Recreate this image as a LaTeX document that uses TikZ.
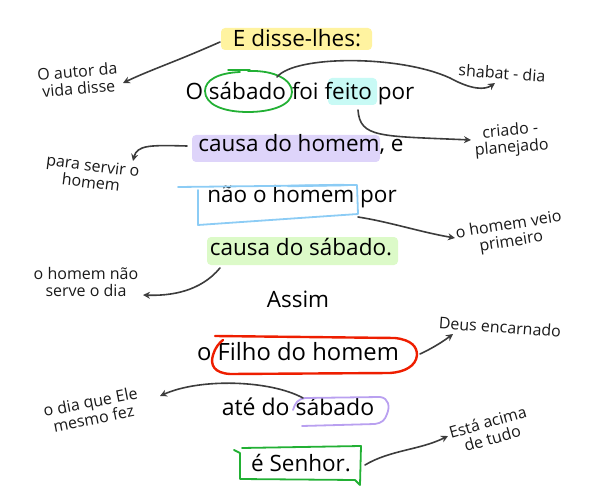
\documentclass[tikz,border=0pt]{standalone}
\usepackage{fontspec}
\setmainfont{Open Sans}
\usetikzlibrary{arrows.meta}
\definecolor{hlyellow}{RGB}{255,243,160}
\definecolor{hlcyan}{RGB}{200,250,245}
\definecolor{hlpurple}{RGB}{222,212,250}
\definecolor{hlgreen}{RGB}{220,250,200}
\definecolor{ringgreen}{RGB}{34,176,52}
\definecolor{ringblue}{RGB}{140,204,245}
\definecolor{ringred}{RGB}{238,30,0}
\definecolor{ringpurple}{RGB}{185,160,240}
\definecolor{arrowgray}{RGB}{60,60,60}
\begin{document}
\begin{tikzpicture}[x=1pt,y=-1pt,
  mainline/.style={font=\fontsize{22.5}{26}\selectfont, anchor=base, inner sep=0pt, text=black},
  note/.style={font=\fontsize{16}{17}\selectfont, align=center, inner sep=0pt, text=black!90},
  hl/.style={rounded corners=4pt, draw=none},
  conn/.style={draw=arrowgray, line width=1.6pt, line cap=round, -{Stealth[length=7pt,width=7pt,open,line width=1.4pt]}},
  ring/.style={line width=1.8pt, line cap=round, line join=round}]
\useasboundingbox (0,0) rectangle (600,500);
% highlights
\fill[hl,hlyellow] (221,28) rectangle (372,50);
\fill[hl,hlcyan] (328,78) rectangle (377,105);
\fill[hl,hlpurple] (192,135) rectangle (380,162);
\fill[hl,hlgreen] (207,237) rectangle (398,265);
% main text
\node[mainline] (l1) at (297,47) {E disse-lhes:};
\node[mainline] (l2) at (300,100) {O sábado foi feito por};
\node[mainline] (l3) at (301,152) {causa do homem, e};
\node[mainline] (l4) at (302,203) {não o homem por};
\node[mainline] (l5) at (301,255) {causa do sábado.};
\node[mainline] (l6) at (298,307) {Assim};
\node[mainline, font=\fontsize{23.8}{27}\selectfont] (l7) at (298,360) {o Filho do homem};
\node[mainline, font=\fontsize{23}{27}\selectfont] (l8) at (298,415) {até do sábado};
\node[mainline] (l9) at (301,471) {é Senhor.};
% rings
\draw[ring,ringgreen] (248,71) .. controls (275,70) and (292,80) .. (292,92) .. controls (292,105) and (272,112) .. (248,112) .. controls (222,112) and (205,104) .. (205,91) .. controls (205,80) and (218,73) .. (240,72);
\draw[ring,ringgreen,line width=1.4pt] (228,70) -- (250,70);
\draw[ring,ringblue] (178,187) -- (357,185) -- (358,214) -- (198,225) -- (198,190);
\draw[ring,ringblue,line width=2.4pt] (288,186) -- (344,185);
\draw[ring,ringred,line width=2.4pt] (215,336) -- (395,338) .. controls (412,340) and (417,347) .. (417,355) .. controls (416,366) and (405,372) .. (390,373) -- (230,374) .. controls (214,373) and (210,365) .. (213,355) .. controls (215,348) and (219,343) .. (223,340);
\draw[ring,ringpurple] (293,410) .. controls (295,403) and (298,399) .. (305,398) -- (380,397) .. controls (389,398) and (390,407) .. (387,414) .. controls (385,420) and (382,423) .. (375,424) -- (302,426);
\draw[ring,ringgreen] (234,450) -- (240,453) -- (240,479) -- (355,480) -- (360,485) -- (361,446) -- (242,448);
% annotations
\node[note, rotate=5] (a1) at (78,80) {O autor da\\vida disse};
\node[note, rotate=-4] (a2) at (502,73) {shabat - dia};
\node[note, rotate=5] (a3) at (511,140) {criado -\\planejado};
\node[note, rotate=-7] (a4) at (92,174) {para servir o\\homem};
\node[note, rotate=9] (a5) at (510,234) {o homem veio\\primeiro};
\node[note] (a6) at (86,282) {o homem não\\serve o dia};
\node[note, rotate=-4] (a7) at (500,327) {Deus encarnado};
\node[note, rotate=11] (a8) at (92,410) {o dia que Ele\\mesmo fez};
\node[note, rotate=16] (a9) at (490,430) {Está acima\\de tudo};
% connector endpoints
\coordinate (s1) at (220,42);  \coordinate (e1) at (123,83);
\coordinate (s2) at (277,77);  \coordinate (e2) at (495,83);
\coordinate (s3) at (358,110); \coordinate (e3) at (471,140);
\coordinate (s4) at (187,146); \coordinate (e4) at (133,161);
\coordinate (s5) at (358,217); \coordinate (e5) at (455,238);
\coordinate (s6) at (220,268); \coordinate (e6) at (143,295);
\coordinate (s7) at (420,354); \coordinate (e7) at (453,334);
\coordinate (s8) at (303,398); \coordinate (e8) at (160,396);
\coordinate (s9) at (365,465); \coordinate (e9) at (448,436);
% connectors
\draw[conn] (s1) .. controls (175,62) and (150,70) .. (e1);
\draw[conn] (s2) .. controls (295,55) and (400,55) .. (450,78) .. controls (472,90) and (485,90) .. (e2);
\draw[conn] (s3) .. controls (360,138) and (380,136) .. (e3);
\draw[conn] (s4) .. controls (150,145) and (137,145) .. (e4);
\draw[conn] (s5) .. controls (390,222) and (420,232) .. (e5);
\draw[conn] (s6) .. controls (200,292) and (170,296) .. (e6);
\draw[conn] (s7) .. controls (435,347) and (445,340) .. (e7);
\draw[conn] (s8) .. controls (270,380) and (200,378) .. (e8);
\draw[conn] (s9) .. controls (390,450) and (420,450) .. (e9);
\end{tikzpicture}
\end{document}
